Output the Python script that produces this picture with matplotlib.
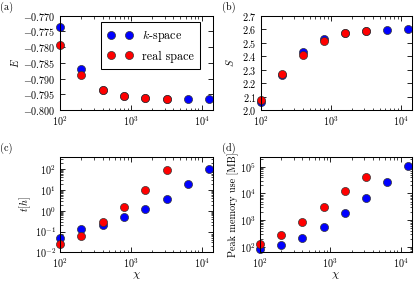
import matplotlib
matplotlib.use("Agg")
import matplotlib.pyplot as plt
import numpy as np

plt.rcParams['font.family'] = 'serif'
plt.rcParams['font.serif'] = ['cmr10']
plt.rcParams['mathtext.fontset'] = 'cm'
plt.rcParams['axes.formatter.use_mathtext'] = True
plt.rcParams['font.size'] = 7.3
plt.rcParams['axes.linewidth'] = 0.75
plt.rcParams['xtick.direction'] = 'in'
plt.rcParams['ytick.direction'] = 'in'
plt.rcParams['xtick.top'] = True
plt.rcParams['ytick.right'] = True
plt.rcParams['xtick.major.size'] = 3.5
plt.rcParams['ytick.major.size'] = 3.5
plt.rcParams['xtick.minor.size'] = 1.8
plt.rcParams['ytick.minor.size'] = 1.8
plt.rcParams['xtick.major.width'] = 0.6
plt.rcParams['ytick.major.width'] = 0.6
plt.rcParams['xtick.minor.width'] = 0.5
plt.rcParams['ytick.minor.width'] = 0.5
plt.rcParams['xtick.major.pad'] = 3
plt.rcParams['ytick.major.pad'] = 3

# bond dimensions
chi_k = [100, 200, 400, 800, 1600, 3200, 6400, 12800]
chi_r = [100, 200, 400, 800, 1600, 3200]

# energy
E_k = [-0.7735, -0.7870, -0.7935, -0.7955, -0.7962, -0.7964, -0.7965, -0.7965]
E_r = [-0.7793, -0.7890, -0.7937, -0.7957, -0.7963, -0.7965]

# entropy
S_k = [2.06, 2.26, 2.43, 2.53, 2.57, 2.59, 2.597, 2.598]
S_r = [2.075, 2.265, 2.41, 2.51, 2.57, 2.59]

# time in hours
t_k = [0.049, 0.138, 0.205, 0.52, 1.25, 3.6, 19, 105]
t_r = [0.024, 0.063, 0.275, 1.5, 9.6, 87]

# peak memory in MB
mem_k = [86, 119, 212, 550, 1860, 6600, 27000, 105000]
mem_r = [126, 284, 880, 3150, 12400, 41000]

fig = plt.figure(figsize=(4.15, 2.82), dpi=100)
ax_a = fig.add_axes([0.1446, 0.6099, 0.3687, 0.3344])
ax_b = fig.add_axes([0.6289, 0.6099, 0.3639, 0.3344])
ax_c = fig.add_axes([0.1446, 0.1053, 0.3687, 0.339])
ax_d = fig.add_axes([0.6265, 0.1053, 0.3663, 0.339])

mk = dict(marker='o', linestyle='none', markersize=5.8,
          markeredgecolor='#333333', markeredgewidth=0.5, clip_on=False)

def draw(ax, yk, yr):
    ax.plot(chi_k, yk, color='blue', markerfacecolor='blue', label=r'$k$-space', **mk)
    ax.plot(chi_r, yr, color='red', markerfacecolor='red', label='real space', **mk)
    ax.set_xscale('log')
    ax.set_xlim(100, 14500)

draw(ax_a, E_k, E_r)
ax_a.set_ylim(-0.800, -0.770)
ax_a.set_yticks(np.arange(-0.800, -0.7699, 0.005))
ax_a.yaxis.set_major_formatter(matplotlib.ticker.FormatStrFormatter(r'$%.3f$'))
ax_a.set_ylabel(r'$E$', labelpad=2)
leg = ax_a.legend(loc='upper right', bbox_to_anchor=(0.915, 0.93), borderaxespad=0,
                  numpoints=2, fontsize=8.7, fancybox=False, framealpha=1,
                  edgecolor='black', handlelength=2.1, handletextpad=0.8,
                  labelspacing=0.5, borderpad=0.5)
leg.get_frame().set_linewidth(0.75)

draw(ax_b, S_k, S_r)
ax_b.set_ylim(2.0, 2.7)
ax_b.set_yticks(np.arange(2.0, 2.71, 0.1))
ax_b.yaxis.set_major_formatter(matplotlib.ticker.FormatStrFormatter(r'$%.1f$'))
ax_b.set_ylabel(r'$S$', labelpad=4)

draw(ax_c, t_k, t_r)
ax_c.set_yscale('log')
ax_c.set_ylim(1e-2, 4e2)
ax_c.set_ylabel(r'$t[h]$', labelpad=1)
ax_c.set_xlabel(r'$\chi$', fontsize=8.5, labelpad=0)

draw(ax_d, mem_k, mem_r)
ax_d.set_yscale('log')
ax_d.set_ylim(62, 2.4e5)
ax_d.set_ylabel('Peak memory use [MB]', labelpad=1)
ax_d.set_xlabel(r'$\chi$', fontsize=8.5, labelpad=0)

for ax in (ax_c, ax_d):
    ax.yaxis.set_minor_locator(matplotlib.ticker.LogLocator(subs=np.arange(2, 10)))
    ax.yaxis.set_minor_formatter(matplotlib.ticker.NullFormatter())

fig.text(0.0, 0.975, '(a)', va='center', ha='left')
fig.text(0.535, 0.975, '(b)', va='center', ha='left')
fig.text(0.0, 0.475, '(c)', va='center', ha='left')
fig.text(0.535, 0.475, '(d)', va='center', ha='left')

fig.savefig('out.png', dpi=100)
